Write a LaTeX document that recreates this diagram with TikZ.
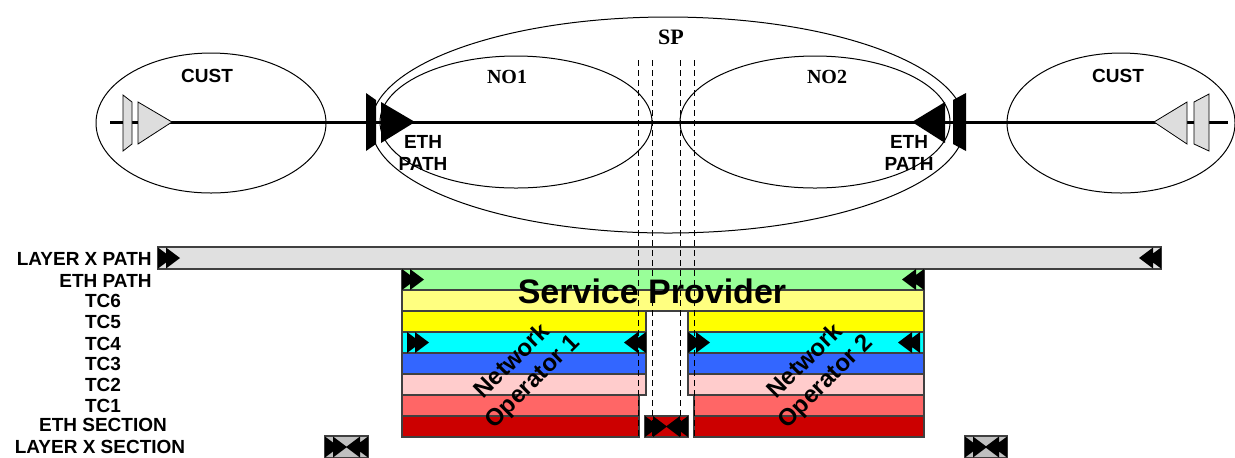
\documentclass[tikz,border=0pt]{standalone}
\usepackage{fontspec}
\newfontfamily\arialfont{Liberation Sans}
\newfontfamily\timesfont{Liberation Serif}

% band colours
\definecolor{pathgray}{HTML}{E0E0E0}
\definecolor{symgray}{HTML}{DDDDDD}
\definecolor{secgray}{HTML}{C0C0C0}
\definecolor{ethgreen}{HTML}{99FF99}
\definecolor{tcsix}{HTML}{FFFF80}
\definecolor{tcfive}{HTML}{FFFF00}
\definecolor{tcfour}{HTML}{00FFFF}
\definecolor{tcthree}{HTML}{3366FF}
\definecolor{tctwo}{HTML}{FFCCCC}
\definecolor{tcone}{HTML}{FF6666}
\definecolor{ethred}{HTML}{CC0000}

% double triangle marks: x = start (or end) of the mark, y = middle of the band
\newcommand{\fwdmark}[2]{%
  \begin{scope}[shift={(#1,#2)}]
    \fill (0,-10.5) -- (14,0) -- (0,10.5) -- cycle (8,-10.5) -- (22,0) -- (8,10.5) -- cycle;
  \end{scope}}
\newcommand{\bwdmark}[2]{%
  \begin{scope}[shift={(#1,#2)}, xscale=-1]
    \fill (0,-10.5) -- (14,0) -- (0,10.5) -- cycle (8,-10.5) -- (22,0) -- (8,10.5) -- cycle;
  \end{scope}}

\begin{document}
\begin{tikzpicture}[x=0.5pt, y=-0.5pt, line join=miter,
    lbl/.style={font=\arialfont\bfseries\fontsize{9.5}{11}\selectfont, inner sep=0pt},
    elbl/.style={lbl, align=center},
    serlbl/.style={font=\timesfont\bfseries\fontsize{10}{12}\selectfont, inner sep=0pt},
    ell/.style={draw=black, line width=0.5pt},
    sym/.style={draw=black, line width=0.4pt, fill=symgray},
    band/.style={draw=black!75, line width=0.6pt},
    cut/.style={dash pattern=on 3pt off 2pt, line width=0.5pt},
    oplbl/.style={font=\arialfont\bfseries\fontsize{12}{14.5}\selectfont, rotate=45, align=center, inner sep=0pt}]
  \useasboundingbox (0,0) rectangle (1235,457);

  % Domains
  \draw[ell] (211,123) ellipse [x radius=115, y radius=70];
  \draw[ell] (668,125) ellipse [x radius=297, y radius=108];
  \draw[ell] (516,122) ellipse [x radius=136, y radius=66];
  \draw[ell] (815,122) ellipse [x radius=135, y radius=66];
  \draw[ell] (1121,123) ellipse [x radius=114, y radius=70];

  % ETH path line
  \draw[line width=1.5pt] (110,122) -- (1228,122);

  % Customer end points (grey)
  \filldraw[sym] (123,95) -- (132,102) -- (132,144) -- (123,151) -- cycle;
  \filldraw[sym] (138,102) -- (172,122) -- (138,144) -- cycle;
  \filldraw[sym] (1209,94) -- (1194,102) -- (1194,144) -- (1209,151) -- cycle;
  \filldraw[sym] (1187,102) -- (1154,122) -- (1187,144) -- cycle;

  % Network end points (black)
  \fill (366,93) -- (376,100) -- (376,144) -- (366,151) -- cycle;
  \fill (381,102) -- (415,122) -- (381,143) -- cycle;
  \fill (966,93) -- (953,100) -- (953,144) -- (966,151) -- cycle;
  \fill (945,102) -- (912,122) -- (945,143) -- cycle;

  % Labels top part
  \node[lbl] (custL) at (207,76) {CUST};
  \node[lbl] (custR) at (1118,76) {CUST};
  \node[serlbl] (no1) at (507,77) {NO1};
  \node[serlbl] (no2) at (827,77) {NO2};
  \node[serlbl, font=\timesfont\bfseries\fontsize{11}{13}\selectfont] (sp) at (671,37) {SP};
  \node[elbl] (ethL) at (423,153) {ETH\\PATH};
  \node[elbl] (ethR) at (909,153) {ETH\\PATH};

  % Layer X path
  \filldraw[band, fill=pathgray] (158,247) rectangle (1161,269);

  % ETH path and TC6 (full width)
  \filldraw[band, fill=ethgreen] (402,269) rectangle (924,290);
  \filldraw[band, fill=tcsix] (402,290) rectangle (924,311);
  % TC5 .. TC2 split at the NNI
  \foreach \y/\c in {311/tcfive, 332/tcfour, 353/tcthree, 374/tctwo} {
    \filldraw[band, fill=\c] (402,\y) rectangle (646,\y+21);
    \filldraw[band, fill=\c] (688,\y) rectangle (924,\y+21);
  }
  % TC1 and ETH section
  \foreach \y/\c in {395/tcone, 416/ethred} {
    \filldraw[band, fill=\c] (402,\y) rectangle (639,\y+21);
    \filldraw[band, fill=\c] (694,\y) rectangle (924,\y+21);
  }
  \filldraw[band, fill=ethred] (645,416) rectangle (688,437);

  % Layer X sections
  \filldraw[band, fill=secgray] (325,436) rectangle (368,458);
  \filldraw[band, fill=secgray] (965,436) rectangle (1007,458);

  % Marks
  \fwdmark{158}{258} \bwdmark{1161}{258}
  \fwdmark{402}{279.5} \bwdmark{924}{279.5}
  \fwdmark{407}{342.5} \bwdmark{646}{342.5}
  \fwdmark{688}{342.5} \bwdmark{920}{342.5}
  \fwdmark{645}{426.5} \bwdmark{688}{426.5}
  \fwdmark{325}{447} \bwdmark{368}{447}
  \fwdmark{965}{447} \bwdmark{1007}{447}

  % NNI boundaries
  \foreach \x in {638,652,680,694}
    \draw[cut] (\x,60) -- (\x,436);

  % Layer names
  \node[lbl, anchor=east] (lxpath) at (152,259) {LAYER X PATH};
  \node[lbl, anchor=east] (ethpath) at (152,281) {ETH PATH};
  \foreach \n/\y in {6/301, 5/322, 4/344, 3/364, 2/385, 1/406}
    \node[lbl] (tc\n) at (103,\y) {TC\n};
  \node[lbl] (ethsec) at (103,425) {ETH SECTION};
  \node[lbl] (lxsec) at (100,447) {LAYER X SECTION};

  % Operators
  \node[font=\arialfont\bfseries\fontsize{17}{20}\selectfont, anchor=base, inner sep=0pt] (provider) at (652,303) {Service Provider};
  \node[oplbl] (op1) at (523,372) {Network\\Operator 1};
  \node[oplbl] (op2) at (816,372) {Network\\Operator 2};
\end{tikzpicture}
\end{document}
